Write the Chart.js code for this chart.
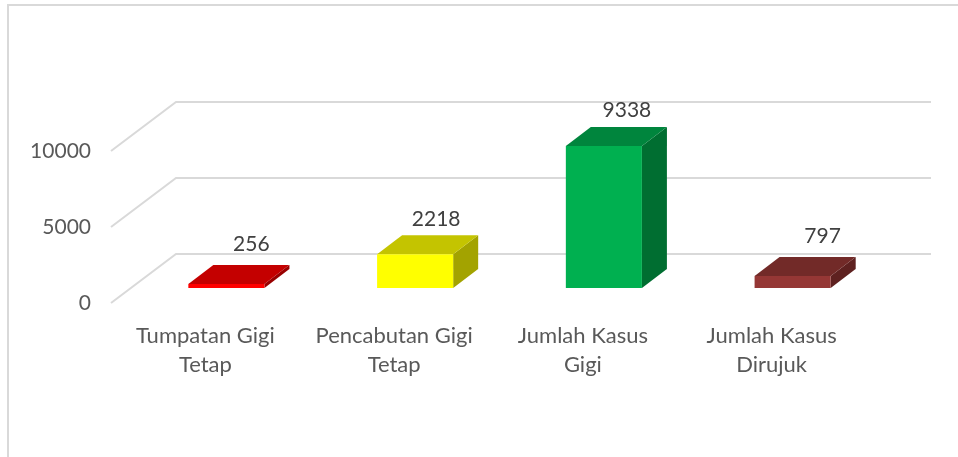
<!DOCTYPE html>
<html>
<head>
<meta charset="utf-8">
<title>Kasus Gigi</title>
<script src="https://cdn.jsdelivr.net/npm/chart.js@4/dist/chart.umd.min.js"></script>
<style>
  html, body { margin: 0; padding: 0; background: #fff; overflow: hidden; }
  #frame { position: absolute; left: 7px; top: 4px; width: 951px; height: 453px; box-sizing: border-box;
           border-top: 2px solid #d9d9d9; border-left: 2px solid #d9d9d9; }
  #chart { position: absolute; left: 0; top: 0; }
</style>
</head>
<body>
<div id="frame"></div>
<canvas id="chart" width="958" height="457"></canvas>
<script>
const categories = [['Tumpatan Gigi', 'Tetap'], ['Pencabutan Gigi', 'Tetap'], ['Jumlah Kasus', 'Gigi'], ['Jumlah Kasus', 'Dirujuk']];
const values = [256, 2218, 9338, 797];
const yTicks = [0, 5000, 10000];

const frontColors = ['#ff0000', '#ffff00', '#00b050', '#953735'];
const topColors = ['#c40000', '#c4c400', '#00853d', '#722a28'];
const sideColors = ['#990000', '#a3a300', '#006e31', '#5e2120'];

// the labels were dragged around a bit in the original
const labelNudgeX = [0, -4, -2, 5];
const labelNudgeY = [-3, 2, 1, -3];

const FONT = 'Lato, Carlito, sans-serif';

// 3d look: floor depth of the plot and depth of a bar
const floorDx = 65, floorDy = -49;
const barShiftX = 21, barShiftY = -15;
const barDx = 25, barDy = -19;
const gridRight = 931;

const threeD = {
  id: 'threeD',
  beforeDatasetsDraw(chart) {
    const { ctx, scales } = chart;
    const left = chart.chartArea.left;

    // walls: diagonal on the side, straight line on the back
    ctx.save();
    ctx.strokeStyle = '#d9d9d9';
    ctx.lineWidth = 2;
    yTicks.forEach(t => {
      const y = scales.y.getPixelForValue(t);
      ctx.beginPath();
      ctx.moveTo(left, y);
      ctx.lineTo(left + floorDx, y + floorDy);
      ctx.lineTo(gridRight, y + floorDy);
      ctx.stroke();
    });
    ctx.restore();

    // move bars from the front of the floor to the middle of it
    ctx.save();
    ctx.translate(barShiftX, barShiftY);
    chart.getDatasetMeta(0).data.forEach((bar, i) => {
      const { x, y, base, width } = bar.getProps(['x', 'y', 'base', 'width'], true);
      const l = x - width / 2, r = x + width / 2;

      ctx.fillStyle = sideColors[i];
      ctx.beginPath();
      ctx.moveTo(r, base);
      ctx.lineTo(r + barDx, base + barDy);
      ctx.lineTo(r + barDx, y + barDy);
      ctx.lineTo(r, y);
      ctx.closePath();
      ctx.fill();

      ctx.fillStyle = topColors[i];
      ctx.beginPath();
      ctx.moveTo(l, y);
      ctx.lineTo(l + barDx, y + barDy);
      ctx.lineTo(r + barDx, y + barDy);
      ctx.lineTo(r, y);
      ctx.closePath();
      ctx.fill();
    });
  },
  afterDatasetsDraw(chart) {
    const { ctx } = chart;
    ctx.restore();

    ctx.save();
    ctx.font = '21px ' + FONT;
    ctx.fillStyle = '#404040';
    ctx.textAlign = 'center';
    ctx.textBaseline = 'middle';
    chart.getDatasetMeta(0).data.forEach((bar, i) => {
      const { x, y } = bar.getProps(['x', 'y'], true);
      ctx.fillText(String(values[i]),
        x + barShiftX + barDx + labelNudgeX[i],
        y + barShiftY + barDy - 18 + labelNudgeY[i]);
    });
    ctx.restore();
  }
};

new Chart(document.getElementById('chart').getContext('2d'), {
  type: 'bar',
  data: {
    labels: categories,
    datasets: [{
      data: values,
      backgroundColor: frontColors,
      borderWidth: 0,
      categoryPercentage: 1,
      barPercentage: 0.403,
      clip: false
    }]
  },
  options: {
    responsive: false,
    animation: false,
    layout: { padding: { left: 0, right: 92, top: 151, bottom: 0 } },
    plugins: { legend: { display: false }, tooltip: { enabled: false } },
    scales: {
      x: {
        grid: { display: false, drawTicks: false },
        border: { display: false },
        afterFit(scale) { scale.height = 154; },
        ticks: {
          autoSkip: false,
          maxRotation: 0,
          padding: 18,
          color: '#595959',
          font: { family: FONT, size: 22, lineHeight: 1.32 }
        }
      },
      y: {
        min: 0,
        max: 10000,
        grid: { display: false, drawTicks: false },
        border: { display: false },
        afterFit(scale) { scale.width = 111; },
        afterBuildTicks(scale) { scale.ticks = yTicks.map(value => ({ value })); },
        ticks: {
          padding: 20,
          color: '#595959',
          font: { family: FONT, size: 21 },
          callback: value => String(value)
        }
      }
    }
  },
  plugins: [threeD]
});
</script>
</body>
</html>
